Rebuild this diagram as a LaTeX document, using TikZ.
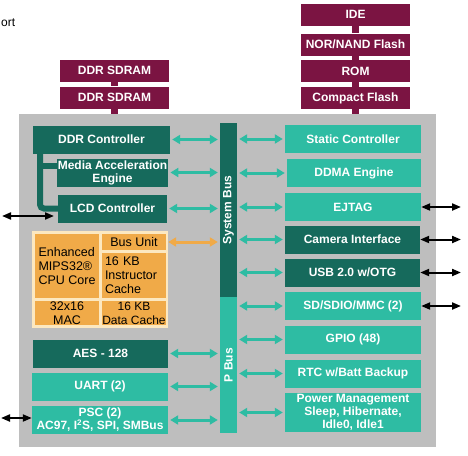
\documentclass[tikz,border=0pt]{standalone}
\usepackage{fontspec}
\setmainfont{Liberation Sans}
\usepackage{tikz}
\usetikzlibrary{shapes,arrows.meta}
\definecolor{socdark}{RGB}{22,106,92}
\definecolor{soclight}{RGB}{46,188,163}
\definecolor{socmem}{RGB}{123,20,66}
\definecolor{socorange}{RGB}{240,170,72}
\definecolor{soccream}{RGB}{252,232,192}
\definecolor{socgray}{RGB}{190,190,190}
\tikzset{
  blockbase/.style={rectangle, inner sep=1pt, align=center, text=white,
    font=\fontsize{12}{13}\selectfont\bfseries, minimum height=28},
  darkblock/.style={blockbase, fill=socdark},
  lightblock/.style={blockbase, fill=soclight},
  memblock/.style={blockbase, fill=socmem, minimum width=109, minimum height=22},
  cpucell/.style={rectangle, inner sep=0pt, fill=socorange, text=black,
    font=\fontsize{12.5}{14}\selectfont, minimum width=64},
  memstem/.style={draw=socmem, line width=7pt},
  pipe/.style={draw=socdark, line width=6pt},
  buslink/.style={{Triangle[length=8pt,width=9pt]}-{Triangle[length=8pt,width=9pt]},
    line width=3pt, draw=soclight, shorten <=2pt, shorten >=2pt},
  cpulink/.style={buslink, draw=socorange},
  extlink/.style={{Triangle[length=9pt,width=7pt]}-{Triangle[length=9pt,width=7pt]},
    line width=2pt, draw=black}
}
\newcommand{\socdarkblock}[4] {\node at (#1) (#2) [darkblock, minimum width=#3] {#4};}
\newcommand{\soclightblock}[4] {\node at (#1) (#2) [lightblock, minimum width=#3] {#4};}
\newcommand{\socmemblock}[3] {\node at (#1) (#2) [memblock] {#3};}
\newcommand{\socstem}[2] {\draw [memstem] (#1) -- (#2);}
\newcommand{\soclink}[2] {\draw [buslink] (#1) -- (#2);}
\newcommand{\socext}[2] {\draw [extlink] (#1) -- (#2);}
\begin{document}
\begin{tikzpicture}[x=1pt,y=-1pt]
\useasboundingbox (0,0) rectangle (468,455);

\node at (0,23) (ortlabel) [anchor=west, inner sep=1pt, font=\fontsize{12}{14}\selectfont] {ort};

\node at (227.5,280.5) (chip) [rectangle, fill=socgray, minimum width=417, minimum height=333] {};

% memories
\socmemblock {114.5,70.5}{ddrram1}{DDR SDRAM}
\socmemblock {114.5,97.5}{ddrram2}{DDR SDRAM}
\socstem {ddrram1}{ddrram2}
\socstem {ddrram2}{ddrram2 |- chip.north}

\socmemblock {355.5,14.5}{ide}{IDE}
\socmemblock {355.5,44.5}{norflash}{NOR/NAND Flash}
\socmemblock {355.5,71}{rom}{ROM}
\socmemblock {355.5,98}{cflash}{Compact Flash}
\socstem {ide}{norflash}
\socstem {norflash}{rom}
\socstem {rom}{cflash}
\socstem {cflash}{cflash |- chip.north}

% buses
\node at (228.5,210) (sysbus) [rectangle, fill=socdark, minimum width=17, minimum height=174] {};
\node at (228.5,365) (pbus) [rectangle, fill=soclight, minimum width=17, minimum height=136] {};
\node at (sysbus.center) (sysbuslabel) [rotate=90, text=white, font=\fontsize{12}{13}\selectfont\bfseries] {System Bus};
\node at (pbus.center) (pbuslabel) [rotate=90, text=white, font=\fontsize{12}{13}\selectfont\bfseries] {P Bus};

% left column
\socdarkblock {101.5,139.5}{ddrctl}{137}{DDR Controller}
\socdarkblock {112.5,172.5}{media}{111}{Media Acceleration\\Engine}
\socdarkblock {112.5,208.5}{lcd}{109}{LCD Controller}
\coordinate (pipetop) at (40,152);
\coordinate (pipemid) at (40,166);
\draw [pipe, rounded corners=4pt] (pipetop) |- (lcd.west);
\draw [pipe] (pipemid) -- (pipemid -| media.west);

\node at (100,279.5) (cpu) [rectangle, fill=soccream, minimum width=136, minimum height=97] {};
\node at (67,266) (cpucore) [cpucell, minimum height=64, align=left] {Enhanced\\MIPS32®\\CPU Core};
\node at (134,242) (busunit) [cpucell, minimum height=16] {Bus Unit};
\node at (134,275.5) (icache) [cpucell, minimum height=45, align=left, text width=58] {16 KB\\Instructor\\Cache};
\node at (67,313) (mac) [cpucell, minimum height=24, align=center] {32x16\\MAC};
\node at (134,313) (dcache) [cpucell, minimum height=24, align=center, font=\fontsize{12}{14}\selectfont] {16 KB\\Data Cache};

\socdarkblock {100.5,353.5}{aes}{135}{AES - 128}
\soclightblock {100,386.5}{uart}{136}{UART (2)}
\soclightblock {100,420}{psc}{136}{PSC (2)\\AC97, I\textsuperscript{2}S, SPI, SMBus}

% right column
\soclightblock {353,139}{staticctl}{136}{Static Controller}
\soclightblock {354,173}{ddma}{134}{DDMA Engine}
\soclightblock {353,207}{ejtag}{136}{EJTAG}
\socdarkblock {352.5,239.5}{camera}{135}{Camera Interface}
\socdarkblock {352.5,272.5}{usb}{135}{USB 2.0 w/OTG}
\soclightblock {353,306}{sdio}{136}{SD/SDIO/MMC (2)}
\soclightblock {353,339.5}{gpio}{136}{GPIO (48)}
\soclightblock {353,373.5}{rtc}{136}{RTC w/Batt Backup}
\soclightblock {353,412.5}{power}{136}{Power Management\\Sleep, Hibernate,\\Idle0, Idle1}

% bus links
\soclink {ddrctl.east}{ddrctl.east -| sysbus.west}
\soclink {media.east}{media.east -| sysbus.west}
\soclink {lcd.east}{lcd.east -| sysbus.west}
\draw [cpulink] (busunit.east) -- (busunit.east -| sysbus.west);
\soclink {aes.east}{aes.east -| pbus.west}
\soclink {uart.east}{uart.east -| pbus.west}
\soclink {psc.east}{psc.east -| pbus.west}

\soclink {sysbus.east |- staticctl.west}{staticctl.west}
\soclink {sysbus.east |- ddma.west}{ddma.west}
\soclink {sysbus.east |- ejtag.west}{ejtag.west}
\soclink {sysbus.east |- camera.west}{camera.west}
\soclink {sysbus.east |- usb.west}{usb.west}
\soclink {pbus.east |- sdio.west}{sdio.west}
\soclink {pbus.east |- gpio.west}{gpio.west}
\soclink {pbus.east |- rtc.west}{rtc.west}
\soclink {pbus.east |- power.west}{power.west}

% external pins
\coordinate (lcdpin) at (2,216);
\coordinate (lcdend) at (54,216);
\socext {lcdpin}{lcdend}
\coordinate (pscpin) at (1,418);
\socext {pscpin}{pscpin -| psc.west}
\coordinate (rightpins) at (461,0);
\socext {ejtag.east}{ejtag.east -| rightpins}
\socext {camera.east}{camera.east -| rightpins}
\socext {usb.east}{usb.east -| rightpins}
\socext {sdio.east}{sdio.east -| rightpins}

\end{tikzpicture}
\end{document}
